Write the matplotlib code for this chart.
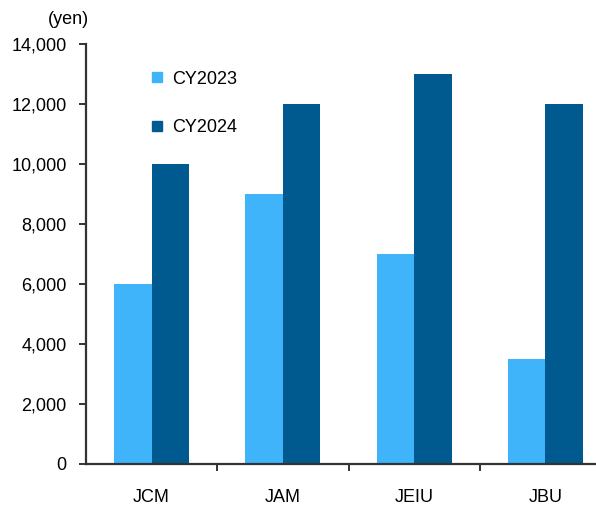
import numpy as np
import matplotlib; matplotlib.use('Agg'); import matplotlib.pyplot as plt
from matplotlib.lines import Line2D
from matplotlib.ticker import FuncFormatter, FixedLocator

plt.rcParams['font.family'] = ['Liberation Sans', 'DejaVu Sans']

categories = ['JCM', 'JAM', 'JEIU', 'JBU']
cy2023 = [6000, 9000, 7000, 3500]
cy2024 = [10000, 12000, 13000, 12000]

c23, c24 = '#40b4fb', '#005a8f'
ink = '#333333'
fs = 13

fig = plt.figure(figsize=(5.96, 5.09), dpi=100)
ax = fig.add_axes([86/596, 45/509, 525/596, 420/509])

x = np.arange(len(categories))
w = 0.286
ax.bar(x - w/2, cy2023, w, color=c23, zorder=2)
ax.bar(x + w/2, cy2024, w, color=c24, zorder=2)

ax.set_xlim(-0.5, len(categories) - 0.5)
ax.set_ylim(0, 14000)
ax.set_yticks(range(0, 14001, 2000))
ax.yaxis.set_major_formatter(FuncFormatter(lambda v, p: f'{int(v):,}'))
ax.set_xticks(x)
ax.set_xticklabels(categories)
ax.xaxis.set_minor_locator(FixedLocator(x[:-1] + 0.5))

for s in ('top', 'right'):
    ax.spines[s].set_visible(False)
for s in ('left', 'bottom'):
    ax.spines[s].set_color(ink)
    ax.spines[s].set_linewidth(1.6)

ax.tick_params(axis='y', direction='out', length=5, width=1.4, color=ink,
               labelsize=fs, pad=9, labelcolor='black')
ax.tick_params(axis='x', which='major', length=0, labelsize=fs, pad=18)
ax.tick_params(axis='x', which='minor', direction='out', length=5, width=1.4, color=ink)

fig.text(89/596, 1 - 20/509, '(yen)', ha='right', va='center', fontsize=fs)

handles = [Line2D([], [], ls='none', marker='s', ms=7.5, color=c23),
           Line2D([], [], ls='none', marker='s', ms=7.5, color=c24)]
ax.legend(handles, ['CY2023', 'CY2024'], loc='upper left',
          bbox_to_anchor=(0.09, 0.975), frameon=False, fontsize=fs,
          handlelength=0.8, handletextpad=0.45, labelspacing=1.75)

fig.savefig('out.png', dpi=100)
